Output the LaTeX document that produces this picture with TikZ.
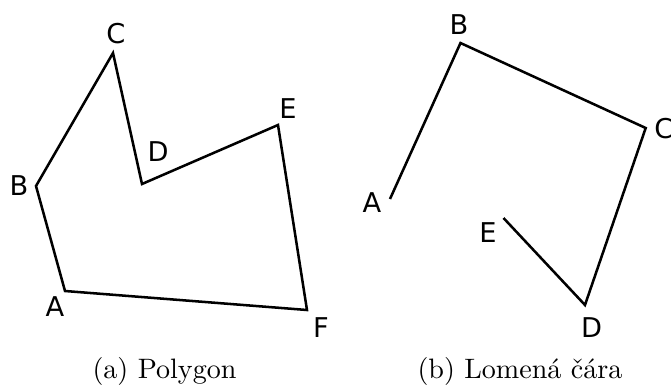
\documentclass[tikz,border=0pt]{standalone}
\usepackage{fontspec}
\newfontfamily\labfont{DejaVu Sans}
\begin{document}
\begin{tikzpicture}[x=0.356pt,y=-0.356pt,
  edge/.style={line width=0.9pt,line join=miter},
  lab/.style={font=\labfont\fontsize{9.7pt}{11pt}\selectfont,inner sep=0pt},
  captext/.style={font=\fontsize{10pt}{12pt}\selectfont,inner sep=0pt}]
\useasboundingbox (0,0) rectangle (671,387);
% left polygon
\coordinate (pA) at (65,291);
\coordinate (pB) at (36,186);
\coordinate (pC) at (113,53);
\coordinate (pD) at (142,184);
\coordinate (pE) at (278,125);
\coordinate (pF) at (307,310);
\draw[edge] (pA) -- (pB) -- (pC) -- (pD) -- (pE) -- (pF) -- cycle;
\node[lab] (lA) at (55,307) {A};
\node[lab] (lB) at (19,186) {B};
\node[lab] (lC) at (116,34) {C};
\node[lab] (lD) at (158,152) {D};
\node[lab] (lE) at (288,109) {E};
\node[lab] (lF) at (321,328) {F};
% right polyline
\coordinate (qA) at (390,199);
\coordinate (qB) at (460.5,43);
\coordinate (qC) at (645.7,128);
\coordinate (qD) at (585,305);
\coordinate (qE) at (503.5,218);
\draw[edge] (qA) -- (qB) -- (qC) -- (qD) -- (qE);
\node[lab] (mA) at (372,203) {A};
\node[lab] (mB) at (459,25) {B};
\node[lab] (mC) at (664,129) {C};
\node[lab] (mD) at (591.5,328) {D};
\node[lab] (mE) at (488,233) {E};
% captions
\node[captext] (capa) at (164.5,371.5) {(a) Polygon};
\node[captext] (capb) at (520,371.5) {(b) Lomená čára};
\end{tikzpicture}
\end{document}
